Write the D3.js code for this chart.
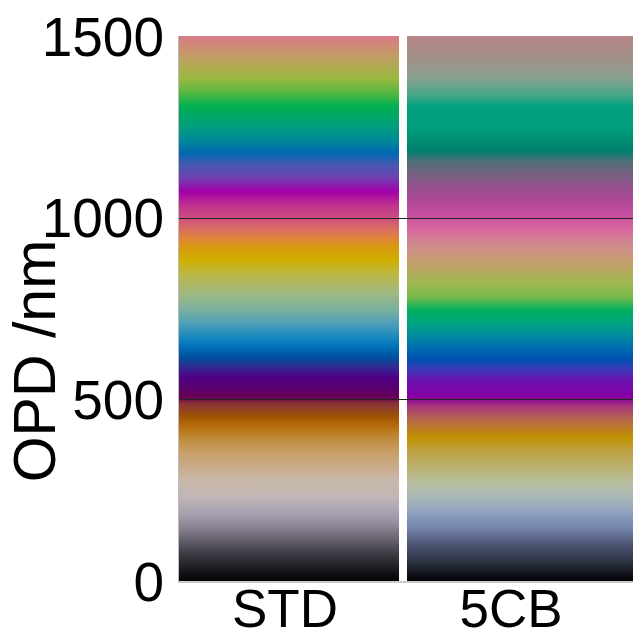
<!doctype html>
<html>
<head>
<meta charset="utf-8"/>
<style>
  html, body { margin: 0; padding: 0; background: #fff; }
  svg { display: block; }
  text { font-family: "Liberation Sans", Arial, sans-serif; fill: #000; }
</style>
<script src="https://d3js.org/d3.v7.min.js"></script>
</head>
<body>
<svg width="636" height="633"></svg>
<script>
  // columns and axis
  var samples = ["STD", "5CB"];
  var opdTicks = [0, 500, 1000, 1500];
  var gridLines = [500, 1000];

  // interference colour read along each column (OPD in nm, colour)
  var stdOpd = [0, 11, 50, 85, 121, 160, 187, 231, 278, 314, 352, 388, 424, 451, 479, 490,
                505, 517, 534, 561, 589, 616, 644, 671, 710, 746, 793, 837, 883, 919, 947,
                974, 1002, 1035, 1073, 1109, 1145, 1178, 1211, 1247, 1307, 1349, 1384, 1439, 1500];
  var stdColors = ["#050507", "#0a0a0c", "#28282e", "#46444e", "#6e6876", "#958e9e", "#a8a0b0",
                   "#c0b6b6", "#c8b8a8", "#c8aa8a", "#c8a06a", "#c08e40", "#b87010", "#a05400",
                   "#8e3c30", "#883038", "#6a0058", "#640060", "#580070", "#500088", "#302c90",
                   "#0050a0", "#0070b8", "#1888c0", "#50a0b8", "#78b0a0", "#a0b880", "#b8b850",
                   "#d0b000", "#d89a10", "#e08040", "#d86868", "#cc4c80", "#c03090", "#a000a8",
                   "#7040b0", "#4858b0", "#0068b0", "#00889a", "#009c80", "#00b050", "#60b840",
                   "#9cb840", "#c0a060", "#d87a88"];

  var cbOpd = [0, 11, 58, 105, 140, 187, 231, 270, 314, 360, 396, 443, 479, 505, 553, 581,
               608, 644, 682, 718, 746, 782, 820, 856, 892, 930, 966, 1007, 1046, 1082, 1117,
               1156, 1183, 1200, 1247, 1307, 1338, 1384, 1439, 1500];
  var cbColors = ["#050508", "#0a0a12", "#303848", "#505878", "#7080a8", "#90a0c0", "#a8b8b8",
                  "#b8c0a0", "#b8b070", "#c0a040", "#c09000", "#b86848", "#a83878", "#8800a0",
                  "#6810b0", "#4038b8", "#0050b0", "#0070b0", "#00909a", "#00a878", "#00b060",
                  "#78b848", "#a0b850", "#b8a860", "#c89878", "#d08890", "#d868a0", "#c850a0",
                  "#b04898", "#985090", "#786080", "#507078", "#00806e", "#008870", "#00a07c",
                  "#00a080", "#48a888", "#88a090", "#a09088", "#b88488"];

  var columns = [
    { name: samples[0], opd: stdOpd, colors: stdColors },
    { name: samples[1], opd: cbOpd, colors: cbColors }
  ];

  var svg = d3.select("svg");
  var plotL = 179, plotR = 633, plotT = 36, plotB = 581;

  var y = d3.scaleLinear().domain([0, 1500]).range([plotB, plotT]);
  var x = d3.scaleBand().domain(samples).range([plotL, 627]).paddingInner(0.035);

  var defs = svg.append("defs");
  columns.forEach(function(c, i) {
    var grad = defs.append("linearGradient")
        .attr("id", "grad" + i)
        .attr("gradientUnits", "userSpaceOnUse")
        .attr("x1", 0).attr("x2", 0)
        .attr("y1", y(0)).attr("y2", y(1500));
    grad.selectAll("stop").data(c.opd).enter().append("stop")
        .attr("offset", function(d) { return d / 1500; })
        .attr("stop-color", function(d, j) { return c.colors[j]; });
  });

  svg.selectAll("rect.col").data(columns).enter().append("rect")
      .attr("class", "col")
      .attr("x", function(d) { return x(d.name); })
      .attr("width", function(d, i) { return i == 1 ? plotR - x(d.name) : x.bandwidth(); })
      .attr("y", y(1500))
      .attr("height", y(0) - y(1500))
      .attr("fill", function(d, i) { return "url(#grad" + i + ")"; });

  // thin horizontal lines
  svg.selectAll("line.grid").data(gridLines).enter().append("line")
      .attr("class", "grid")
      .attr("x1", plotL).attr("x2", plotR)
      .attr("y1", function(d) { return Math.round(y(d)) + 0.5; })
      .attr("y2", function(d) { return Math.round(y(d)) + 0.5; })
      .attr("stroke", "#222").attr("stroke-width", 1);

  // axis frame
  svg.append("line").attr("x1", plotL - 0.5).attr("x2", plotL - 0.5)
      .attr("y1", plotT).attr("y2", plotB + 1)
      .attr("stroke", "#bbb");
  svg.append("line").attr("x1", plotL - 1).attr("x2", plotR)
      .attr("y1", plotB + 1).attr("y2", plotB + 1)
      .attr("stroke", "#999");

  // y tick labels
  svg.selectAll("text.ytick").data(opdTicks).enter().append("text")
      .attr("class", "ytick")
      .attr("x", 164)
      .attr("y", function(d) { return y(d); })
      .attr("dy", "0.36em")
      .attr("text-anchor", "end")
      .style("font-size", "55px")
      .text(function(d) { return d; });

  // x labels
  svg.selectAll("text.xlab").data(samples).enter().append("text")
      .attr("class", "xlab")
      .attr("x", function(d, i) { return x(d) + x.bandwidth() / 2 - (i == 1 ? 6 : 4); })
      .attr("y", 627)
      .attr("text-anchor", "middle")
      .style("font-size", "53px")
      .text(function(d) { return d; });

  // y axis title
  svg.append("text")
      .attr("transform", "translate(55," + 361 + ") rotate(-90)")
      .attr("text-anchor", "middle")
      .style("font-size", "59px")
      .text("OPD /nm");
</script>
</body>
</html>
